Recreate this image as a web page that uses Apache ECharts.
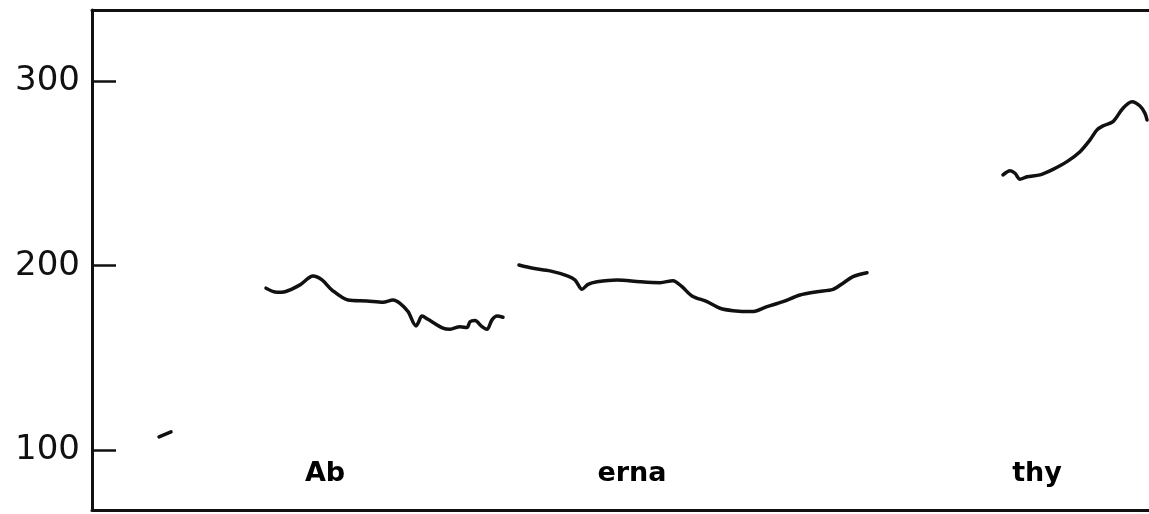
<!DOCTYPE html>
<html>
<head>
<meta charset="utf-8">
<script src="https://cdn.jsdelivr.net/npm/echarts@6/dist/echarts.min.js"></script>
<style>
html,body{margin:0;padding:0;background:#fff;}
#chart{width:1149px;height:514px;}
</style>
</head>
<body>
<div id="chart"></div>
<script>
// Y axis tick labels (Hz)
const yTicks = [100, 200, 300];

// Pitch contour segments: time (arbitrary units) and F0 (Hz)
const seg0X = [67, 79];
const seg0Y = [107.1, 109.8];

const abX = [174,185,193,208,221,230,240,256,275,291,301,308,316,324,326,330,336,351,358,368,375,378,383,390,395,400,405,411];
const abY = [187.8,185.6,185.9,189.6,194.4,192.3,186.8,181.4,180.9,180.2,181.4,179.6,175.1,167.3,168.8,172.7,170.9,166.1,165.5,166.9,166.4,169.6,170.2,166.9,165.5,170.6,172.7,172.0];

const ernaX = [427,441,458,476,483,490,496,505,525,548,568,581,590,600,615,628,641,660,675,691,708,725,741,751,761,775];
const ernaY = [200.4,198.6,197.2,194.4,192.3,187.2,189.9,191.3,192.3,191.3,190.8,191.9,188.6,183.6,180.5,176.9,175.6,175.1,177.8,180.5,184.1,185.9,187.2,190.5,194.1,196.2];

const thyX = [911,918,923,928,935,948,961,975,988,998,1005,1011,1021,1031,1040,1048,1053,1055];
const thyY = [249.3,251.6,250.2,246.9,248.3,249.3,252.3,256.5,261.9,268.3,273.7,275.9,278.2,285.5,289.0,286.7,282.7,279.1];

// Syllable labels
const syllables = ['Ab', 'erna', 'thy'];
const syllableX = [233, 540, 945];
const syllableY = [86.7, 86.7, 86.7];

const zip = (xs, ys) => xs.map((x, i) => [x, ys[i]]);

const lineSeries = (xs, ys) => ({
  type: 'line',
  data: zip(xs, ys),
  showSymbol: false,
  symbol: 'none',
  smooth: 0.3,
  lineStyle: { color: '#111', width: 3.5, cap: 'round', join: 'round' },
  silent: true,
  z: 3
});

const chart = echarts.init(document.getElementById('chart'), null, { renderer: 'canvas' });
chart.setOption({
  animation: false,
  backgroundColor: '#fff',
  grid: { left: 92, right: 0, top: 10, bottom: 4, containLabel: false },
  xAxis: [
    {
      type: 'value', min: 0, max: 1057, position: 'bottom',
      axisLine: { show: true, onZero: false, lineStyle: { color: '#111', width: 3 } },
      axisTick: { show: false }, axisLabel: { show: false }, splitLine: { show: false }
    },
    {
      type: 'value', min: 0, max: 1057, position: 'top',
      axisLine: { show: true, onZero: false, lineStyle: { color: '#111', width: 3 } },
      axisTick: { show: false }, axisLabel: { show: false }, splitLine: { show: false }
    }
  ],
  yAxis: {
    type: 'value', min: 67.4, max: 338.8,
    axisLine: { show: true, onZero: false, lineStyle: { color: '#111', width: 3 } },
    axisTick: { show: true, inside: true, length: 24, customValues: yTicks, lineStyle: { color: '#111', width: 2.5 } },
    axisLabel: {
      show: true, customValues: yTicks, margin: 12,
      color: '#111', fontSize: 34, fontFamily: 'DejaVu Sans'
    },
    splitLine: { show: false }
  },
  series: [
    lineSeries(seg0X, seg0Y),
    lineSeries(abX, abY),
    lineSeries(ernaX, ernaY),
    lineSeries(thyX, thyY),
    {
      type: 'scatter',
      symbolSize: 0,
      silent: true,
      itemStyle: { opacity: 1, color: 'transparent' },
      data: syllables.map((s, i) => ({ name: s, value: [syllableX[i], syllableY[i]] })),
      label: {
        show: true, position: 'inside', formatter: p => p.name,
        color: '#000', opacity: 1, fontSize: 27, fontWeight: 'bold', fontFamily: 'DejaVu Sans',
        verticalAlign: 'middle', align: 'center'
      }
    }
  ]
});
</script>
</body>
</html>
